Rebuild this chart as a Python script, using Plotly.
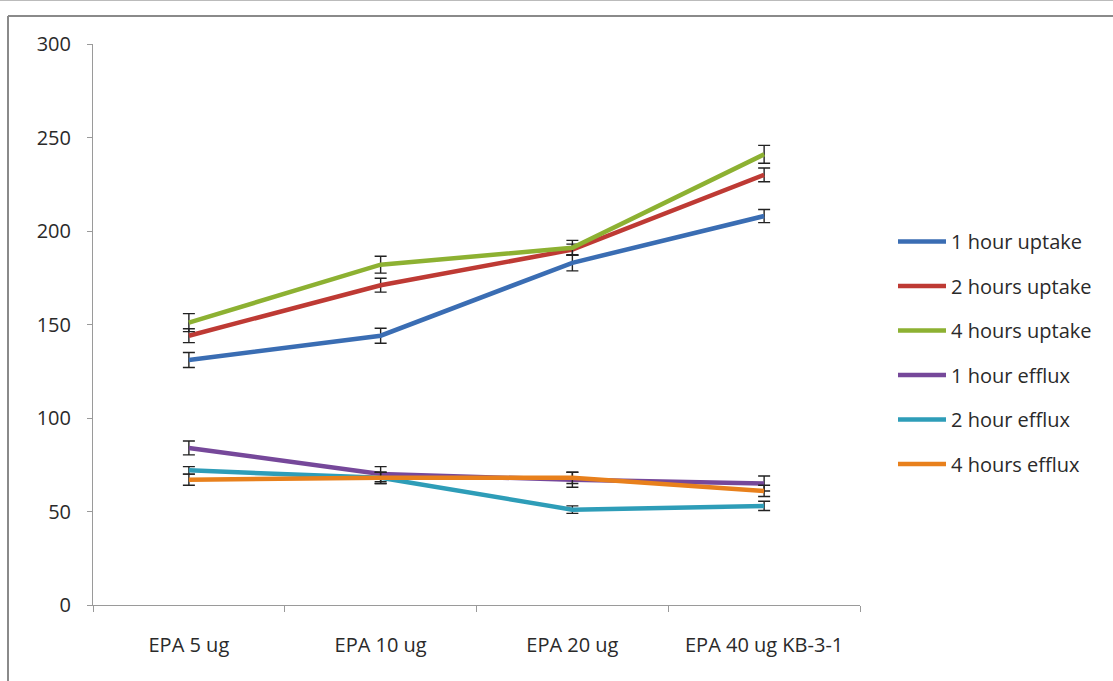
import plotly.graph_objects as go

categories = ["EPA 5 ug", "EPA 10 ug", "EPA 20 ug", "EPA 40 ug KB-3-1"]
series_names = ["1 hour uptake", "2 hours uptake", "4 hours uptake",
                "1 hour efflux", "2 hour efflux", "4 hours efflux"]
uptake_1h = [131, 144, 183, 208]
uptake_2h = [144, 171, 190, 230]
uptake_4h = [151, 182, 191, 241]
efflux_1h = [84, 70, 67, 65]
efflux_2h = [72, 68, 51, 53]
efflux_4h = [67, 68, 68, 61]
err_1h_up = [4, 4, 4.3, 3.5]
err_2h_up = [3.7, 3.7, 3, 3.7]
err_4h_up = [4.8, 4.5, 4, 4.8]
err_1h_ef = [3.7, 4, 4, 4]
err_2h_ef = [2, 3, 2, 2.5]
err_4h_ef = [3, 3, 3, 3]
y_ticks = [0, 50, 100, 150, 200, 250, 300]

values = [uptake_1h, uptake_2h, uptake_4h, efflux_1h, efflux_2h, efflux_4h]
errors = [err_1h_up, err_2h_up, err_4h_up, err_1h_ef, err_2h_ef, err_4h_ef]
colors = ["#3A6DB3", "#BE3A34", "#8DB132", "#76489A", "#2E9DB8", "#E8801C"]

W, H = 1113, 681
L, R, T, B = 93, 860, 44, 605

fig = go.Figure()
for i, (name, v, e, c) in enumerate(zip(series_names, values, errors, colors)):
    fig.add_trace(go.Scatter(
        x=categories, y=v, name=name, mode="lines", legendgroup=f"g{i}",
        line=dict(color=c, width=4.5),
        error_y=dict(type="data", array=e, visible=True, color="#222222",
                     thickness=1.4, width=6),
    ))

def px_x(p):
    return (p - L) / (R - L)

def px_y(p):
    return (B - p) / (B - T)

shapes = [
    dict(type="line", xref="paper", yref="paper", x0=px_x(0), x1=px_x(W),
         y0=px_y(0.5), y1=px_y(0.5), line=dict(color="#BBBBBB", width=1)),
    dict(type="line", xref="paper", yref="paper", x0=px_x(8), x1=px_x(W + 5),
         y0=px_y(16), y1=px_y(16), line=dict(color="#8A8A8A", width=2)),
    dict(type="line", xref="paper", yref="paper", x0=px_x(8), x1=px_x(8),
         y0=px_y(16), y1=px_y(H + 5), line=dict(color="#8A8A8A", width=2)),
]

fig.update_layout(
    width=W, height=H,
    margin=dict(l=L, r=W - R, t=T, b=H - B, autoexpand=False),
    paper_bgcolor="white", plot_bgcolor="white",
    font=dict(family="Open Sans, DejaVu Sans, sans-serif", size=20, color="#2A2A2A"),
    showlegend=True,
    legend=dict(xref="container", yref="container", x=893 / W, y=1 - 222 / H,
                xanchor="left", yanchor="top",
                font=dict(size=20, color="#2A2A2A"), tracegroupgap=15.5,
                itemwidth=48, bgcolor="rgba(0,0,0,0)"),
    shapes=shapes,
    xaxis=dict(range=[-0.5, 3.5], showline=True, linecolor="#9A9A9A", linewidth=1,
               ticks="outside", tickson="boundaries", ticklen=6, tickcolor="#9A9A9A",
               showgrid=False, zeroline=False, ticklabelstandoff=22,
               tickfont=dict(size=20, color="#2A2A2A")),
    yaxis=dict(range=[0, 300], tickvals=y_ticks, showline=True, linecolor="#9A9A9A",
               linewidth=1, ticks="outside", ticklen=5, tickcolor="#9A9A9A",
               showgrid=False, zeroline=False, ticklabelstandoff=12,
               tickfont=dict(size=20, color="#2A2A2A")),
)

fig.write_html("out.html", config={"displayModeBar": False},
               post_script="document.body.style.margin='0';")
